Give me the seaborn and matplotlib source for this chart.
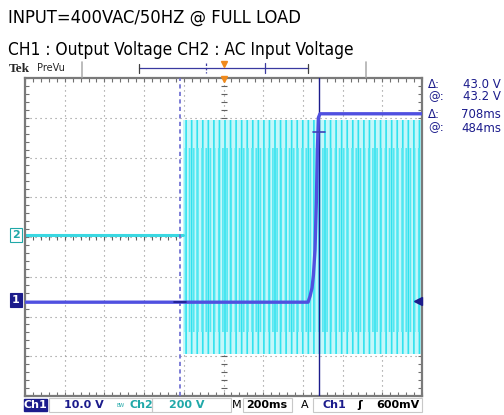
import numpy as np
import seaborn as sns
import matplotlib.pyplot as plt
from matplotlib import font_manager
from matplotlib.patches import Rectangle

# ---- data (time in ms, amplitude in screen divisions) ----
ch1_t = [-1000, 426, 436, 446, 453, 461, 468, 473, 478, 486, 1000]
ch1_div = [-1.64, -1.64, -1.49, -1.28, -0.96, -0.33, 0.93, 2.19, 3.0, 3.1, 3.1]

ch2_idle_t = [-1000, -205]
ch2_idle_div = [0.05, 0.05]

ch2_ac_t = [-205, 1000]
ch2_ac_top = [2.95, 2.95]
ch2_ac_bot = [-2.95, -2.95]
ch2_core_top = [2.25, 2.25]
ch2_core_bot = [-2.4, -2.4]

cursor_a = -219   # dashed cursor
cursor_b = 481    # solid cursor
readouts = [("Δ:", "43.0 V"), ("@:", "43.2 V"), ("Δ:", "708ms"), ("@:", "484ms")]

W, H = 504, 415
NAVY = '#1c1c8c'
CH1 = '#5050e0'
CH2 = '#30e2ee'
CH2_LIGHT = '#c4f7fa'
GRID = '#8c8c8c'

sns.set_style('white')
plt.rcParams['font.family'] = ['DejaVu Sans']
plt.rcParams['hatch.linewidth'] = 1.2


def pick_narrow():
    for fam, stretch in (('Liberation Sans Narrow', 'normal'), ('Arial Narrow', 'normal'),
                         ('DejaVu Sans', 'condensed'), ('Liberation Sans', 'normal')):
        try:
            path = font_manager.findfont(font_manager.FontProperties(family=fam, stretch=stretch),
                                         fallback_to_default=False)
        except Exception:
            continue
        if fam == 'DejaVu Sans' and 'Condensed' not in path:
            continue
        return fam, stretch
    return 'DejaVu Sans', 'normal'


title_fam, title_stretch = pick_narrow()

fig = plt.figure(figsize=(W / 100, H / 100), dpi=100)
ax = fig.add_axes([25 / W, 1 - 396 / H, 397 / W, 318 / H])
ax.set_xlim(-1000, 1000)
ax.set_ylim(-4, 4)


def fx(px):
    return px / W


def fy(py):
    return 1 - py / H


# graticule
for x in range(-800, 1000, 200):
    ax.axvline(x, color=GRID, lw=0.8, ls=(0, (1, 3.5)), zorder=0)
for y in range(-3, 4):
    ax.axhline(y, color=GRID, lw=0.8, ls=(0, (1, 3.5)), zorder=0)
ax.scatter(np.arange(-1000, 1001, 40), np.zeros(51), marker='|', s=14,
           color='#606060', lw=0.8, zorder=0.5)
ax.scatter(np.zeros(41), np.arange(-4, 4.01, 0.2), marker='_', s=14,
           color='#606060', lw=0.8, zorder=0.5)

ax.set_xticks(np.arange(-1000, 1001, 40))
ax.set_yticks(np.arange(-4, 4.01, 0.2))
ax.tick_params(direction='in', length=3, width=0.8, color='#707070',
               top=True, right=True, bottom=True, left=True,
               labelbottom=False, labelleft=False)
for s in ax.spines.values():
    s.set_color('#7a7a7a')
    s.set_linewidth(1.6)

# channel 2 : AC input
sns.lineplot(x=ch2_idle_t, y=ch2_idle_div, ax=ax, color='#3ad8e2', lw=2.2,
             estimator=None, sort=False, zorder=2)
ax.fill_between(ch2_ac_t, ch2_ac_bot, ch2_ac_top, facecolor=CH2_LIGHT,
                edgecolor=CH2, hatch='|||', linewidth=0, zorder=1)
ax.fill_between(ch2_ac_t, ch2_core_bot, ch2_core_top, facecolor='none',
                edgecolor='#52e8f2', hatch='||||', linewidth=0, zorder=1.2)

# cursors
ax.axvline(cursor_a, color='#6a6ad0', lw=1.2, ls=(0, (2.5, 2)), zorder=3)
ax.axvline(cursor_b, color=NAVY, lw=1.0, zorder=3)
ax.plot([cursor_a - 30, cursor_a + 30], [-1.64, -1.64], color=NAVY, lw=1.2, zorder=4)
ax.plot([cursor_b - 30, cursor_b + 30], [2.64, 2.64], color='#4040b8', lw=1.2, zorder=4)

# channel 1 : output voltage
sns.lineplot(x=ch1_t, y=ch1_div, ax=ax, color=CH1, lw=2.4,
             estimator=None, sort=False, zorder=3.5)

# trigger level arrow on right
ax.plot([982], [-1.61], marker='<', color=NAVY, ms=6, clip_on=False, zorder=5)
# trigger position marker on top border
ax.plot([0], [3.97], marker='v', color='#f08a1c', ms=4, clip_on=False, zorder=5)

# channel ground markers at left
fig.patches.append(Rectangle((fx(10), fy(242)), 12 / W, 14 / H, transform=fig.transFigure,
                             facecolor='white', edgecolor='#20a8a8', lw=0.8))
fig.text(fx(16), fy(235), '2', color='#20a8a8', fontsize=8, fontweight='bold',
         ha='center', va='center')
fig.patches.append(Rectangle((fx(10), fy(307)), 12 / W, 14 / H, transform=fig.transFigure,
                             facecolor=NAVY, edgecolor=NAVY, lw=0.8))
fig.text(fx(16), fy(300), '1', color='white', fontsize=8, fontweight='bold',
         ha='center', va='center')

# titles, sized to the width they take in the reference
renderer = fig.canvas.get_renderer()
for txt, yy, target in (('INPUT=400VAC/50HZ @ FULL LOAD', 18, 295),
                        ('CH1 : Output Voltage CH2 : AC Input Voltage', 50, 348)):
    t = fig.text(fx(8), fy(yy), txt, family=[title_fam, 'DejaVu Sans'], stretch=title_stretch,
                 fontsize=16, color='black', va='center')
    w = t.get_window_extent(renderer).width
    t.set_fontsize(min(17, 16 * target / w))

# Tek PreVu header
fig.text(fx(9), fy(69), 'Tek', family=['Liberation Serif'], fontweight='bold',
         fontsize=9.5, va='center')
fig.text(fx(37), fy(68), 'PreVu', fontsize=7, va='center')
for px in (82, 366):
    fig.lines.append(plt.Line2D([fx(px), fx(px)], [fy(62), fy(77)], color='#b0b0b0',
                                lw=1.2, transform=fig.transFigure))
fig.lines.append(plt.Line2D([fx(139), fx(308)], [fy(68), fy(68)], color='#3a3aa0',
                            lw=0.9, transform=fig.transFigure))
for px in (139, 308):
    fig.lines.append(plt.Line2D([fx(px), fx(px)], [fy(64), fy(73)], color='#404040',
                                lw=0.9, transform=fig.transFigure))
fig.lines.append(plt.Line2D([fx(265), fx(265)], [fy(63), fy(73)], color='#3a3aa0',
                            lw=0.9, transform=fig.transFigure))
fig.lines.append(plt.Line2D([fx(206), fx(206)], [fy(63), fy(73)], color='#3a3aa0',
                            lw=0.9, ls=(0, (2, 1.5)), transform=fig.transFigure))
fig.lines.append(plt.Line2D([fx(224)], [fy(64)], marker='v', color='#f08a1c', ms=4,
                            transform=fig.transFigure))

# cursor readouts
for i, (lab, val) in enumerate(readouts):
    yy = [85, 97, 115, 128][i]
    fig.text(fx(428), fy(yy), lab, color=NAVY, fontsize=8.5, va='center')
    fig.text(fx(501), fy(yy), val, color=NAVY, fontsize=8.5, va='center', ha='right')

# bottom status bar
fig.patches.append(Rectangle((fx(24), fy(411)), 23 / W, 12 / H, transform=fig.transFigure,
                             facecolor=NAVY, edgecolor=NAVY))
for x0, x1 in ((49, 152), (152, 231), (243, 292), (313, 422)):
    fig.patches.append(Rectangle((fx(x0), fy(412)), (x1 - x0) / W, 14 / H,
                                 transform=fig.transFigure, facecolor='none',
                                 edgecolor='#c8c8c8', lw=0.8))
bar_y = fy(405)
bar_kw = dict(fontsize=8, va='center', ha='center', fontweight='bold')
fig.text(fx(35.5), bar_y, 'Ch1', color='white', **bar_kw)
fig.text(fx(84), bar_y, '10.0 V', color=NAVY, **bar_kw)
fig.text(fx(121), bar_y, 'BW', color='#20a8a8', fontsize=3.5, va='center', ha='center')
fig.text(fx(141), bar_y, 'Ch2', color='#20a8a8', **bar_kw)
fig.text(fx(187), bar_y, '200 V', color='#20a8a8', **bar_kw)
fig.text(fx(237), bar_y, 'M', color='black', fontsize=8, va='center', ha='center')
fig.text(fx(267), bar_y, '200ms', color='black', **bar_kw)
fig.text(fx(305), bar_y, 'A', color='black', fontsize=8, va='center', ha='center')
fig.text(fx(334), bar_y, 'Ch1', color=NAVY, **bar_kw)
fig.text(fx(360), bar_y, 'ʃ', color='black', **bar_kw)
fig.text(fx(398), bar_y, '600mV', color='black', **bar_kw)

fig.savefig('out.png', dpi=100)
